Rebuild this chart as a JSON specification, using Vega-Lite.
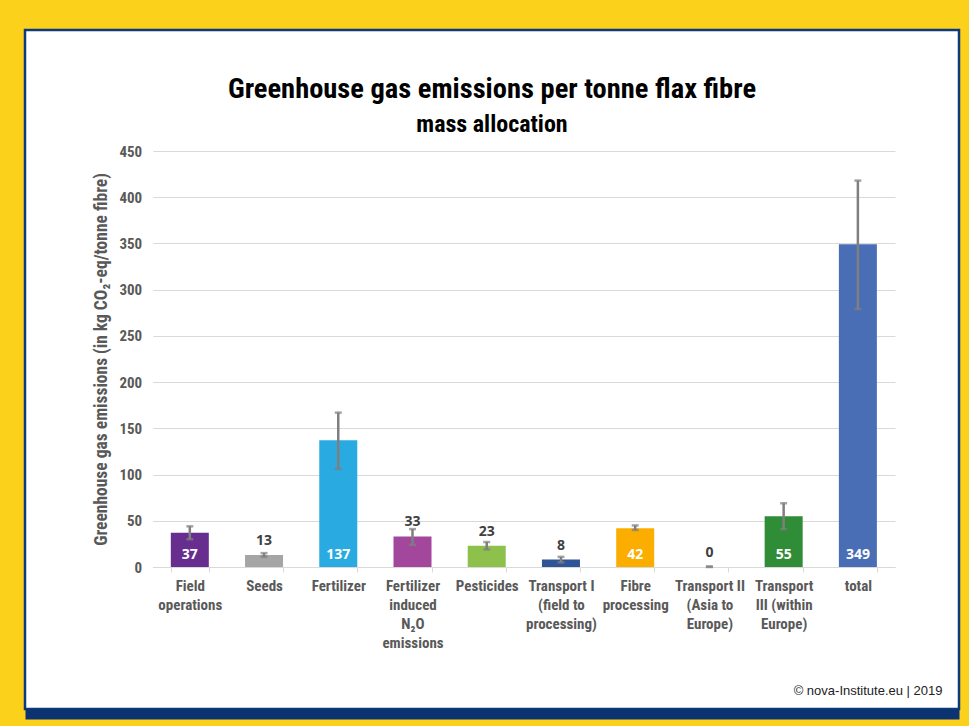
{
"$schema":"https://vega.github.io/schema/vega-lite/v6.json",
"width":934,"height":679,
"autosize":{"type":"none"},
"padding":{"left":25,"top":30,"right":10,"bottom":17},
"background":"#fcd11c",
"title":{"text":"Greenhouse gas emissions per tonne flax fibre","subtitle":"mass allocation","font":"Roboto Condensed","fontWeight":"bold","fontSize":28.5,"color":"#000000","subtitleFont":"Roboto Condensed","subtitleFontWeight":"bold","subtitleFontSize":24,"subtitleColor":"#000000","subtitlePadding":10,"anchor":"middle","frame":"group","offset":-107},
"config":{"view":{"fill":"#ffffff","stroke":"#0d3a78","strokeWidth":2.5}},
"data":{"values":[
{"category":"Field|operations","value":37,"low":30,"high":44},
{"category":"Seeds","value":13,"low":11,"high":15},
{"category":"Fertilizer","value":137,"low":106,"high":167},
{"category":"Fertilizer|induced|N₂O|emissions","value":33,"low":24,"high":41},
{"category":"Pesticides","value":23,"low":19,"high":27},
{"category":"Transport I|(field to|processing)","value":8,"low":5,"high":11},
{"category":"Fibre|processing","value":42,"low":40,"high":45},
{"category":"Transport II|(Asia to|Europe)","value":0,"low":0,"high":0.6},
{"category":"Transport|III (within|Europe)","value":55,"low":41,"high":69},
{"category":"total","value":349,"low":279,"high":418}
]},
"layer":[
{"encoding":{
  "x":{"field":"category","type":"nominal","sort":null,
    "scale":{"range":[127.7,870],"paddingInner":0.488,"paddingOuter":0.244},
    "axis":{"orient":"bottom","offset":-142,"labelAngle":0,"labelExpr":"split(datum.label, '|')","labelFont":"Roboto Condensed","labelFontWeight":"bold","labelFontSize":15,"labelColor":"#595959","labelLineHeight":19,"labelPadding":6,"labelLimit":200,"tickBand":"extent","tickColor":"#d9d9d9","tickSize":5,"domainColor":"#d9d9d9","domainWidth":1,"grid":false,
      "title":"© nova-Institute.eu | 2019","titleFont":"Liberation Sans","titleFontWeight":"normal","titleFontSize":13,"titleColor":"#222222","titleAlign":"right","titleBaseline":"middle","titleX":917,"titleY":123,"titleAnchor":"end"}},
  "y":{"type":"quantitative","scale":{"domain":[0,450],"range":[537,121],"nice":false},
    "axis":{"orient":"left","offset":-127.7,"values":[0,50,100,150,200,250,300,350,400,450],"domain":false,"ticks":false,"grid":true,"gridColor":"#d9d9d9","gridWidth":1,"labelFont":"Roboto Condensed","labelFontWeight":"bold","labelFontSize":15,"labelColor":"#595959","labelPadding":11,
      "title":"Greenhouse gas emissions (in kg CO₂-eq/tonne fibre)","titleFont":"Roboto Condensed","titleFontWeight":"bold","titleFontSize":17.5,"titleColor":"#595959","titlePadding":8}}
 },
 "layer":[
  {"mark":{"type":"bar"},"encoding":{"y":{"field":"value"},
    "color":{"field":"category","type":"nominal","legend":null,
      "scale":{"domain":["Field|operations","Seeds","Fertilizer","Fertilizer|induced|N₂O|emissions","Pesticides","Transport I|(field to|processing)","Fibre|processing","Transport II|(Asia to|Europe)","Transport|III (within|Europe)","total"],
        "range":["#672e8f","#a5a5a5","#29abe2","#a2479c","#8dc14b","#2f5597","#fbae00","#7f7f7f","#2f8c37","#4a6eb5"]}}}},
  {"mark":{"type":"rule","color":"#7f7f7f","strokeWidth":2.5},"encoding":{"y":{"field":"low"},"y2":{"field":"high"}}},
  {"mark":{"type":"tick","orient":"horizontal","color":"#7f7f7f","size":7,"thickness":2.5},"encoding":{"y":{"field":"low"}}},
  {"mark":{"type":"tick","orient":"horizontal","color":"#7f7f7f","size":7,"thickness":2.5},"encoding":{"y":{"field":"high"}}},
  {"transform":[{"filter":"datum.value >= 35"}],"mark":{"type":"text","font":"Open Sans","fontWeight":"bold","fontSize":14,"color":"#ffffff","baseline":"alphabetic","dy":-8},"encoding":{"y":{"datum":0},"text":{"field":"value","type":"quantitative"}}},
  {"transform":[{"filter":"datum.value < 35"}],"mark":{"type":"text","font":"Open Sans","fontWeight":"bold","fontSize":14,"color":"#404040","baseline":"alphabetic","dy":-10},"encoding":{"y":{"field":"value"},"text":{"field":"value","type":"quantitative"}}}
 ]
},
{"mark":{"type":"point","opacity":0},
 "encoding":{"x":{"field":"category","type":"nominal","sort":null,
   "axis":{"orient":"bottom","offset":5,"labels":false,"ticks":false,"grid":false,"title":null,"domain":true,"domainColor":"#0b3371","domainWidth":10}}}}
],
"resolve":{"scale":{"x":"independent"},"axis":{"x":"independent"}}
}
